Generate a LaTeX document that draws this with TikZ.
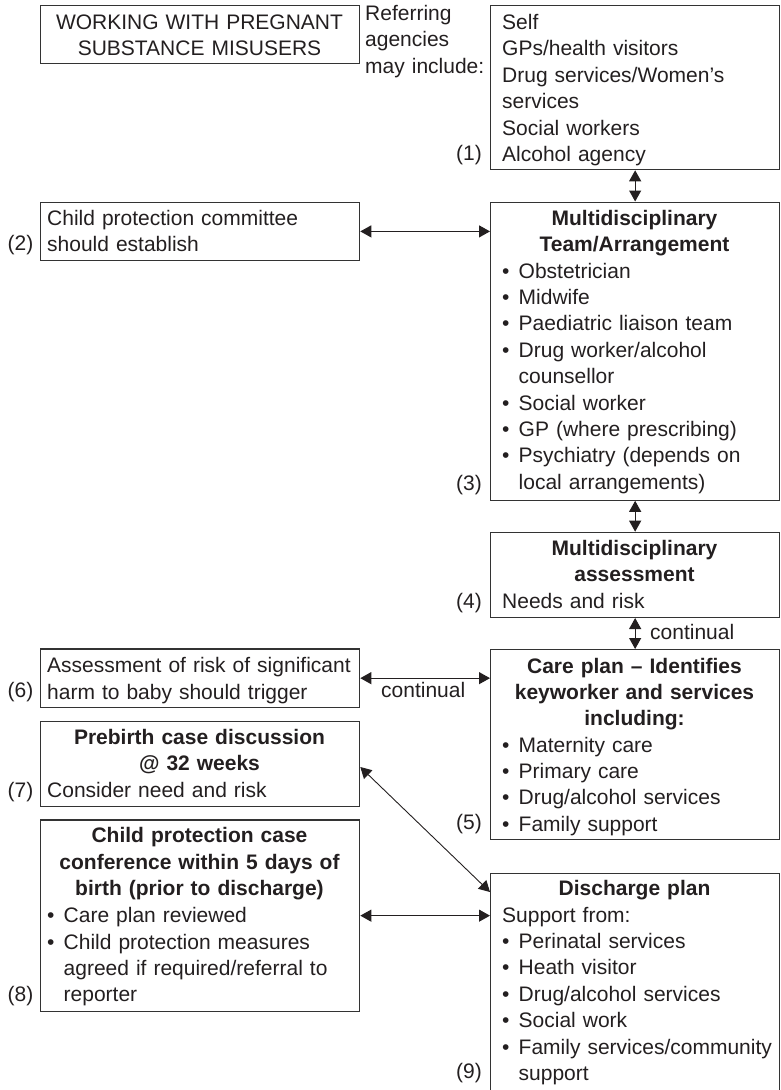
\documentclass[tikz,border=0pt]{standalone}
\usepackage{fontspec}
\setmainfont{Liberation Sans}
\usetikzlibrary{arrows.meta,calc}
\definecolor{ink}{HTML}{231F20}
\definecolor{edge}{HTML}{333333}
\newcommand{\bl}{\makebox[16.5pt][l]{\textbullet}}
\newcommand{\ind}{\hspace*{16.5pt}}
\begin{document}
\begin{tikzpicture}[x=1pt,y=-1pt,
  box/.style={draw=edge,line width=1.3pt,inner sep=0pt,anchor=north west},
  txt/.style={inner sep=0pt,text=ink,font=\fontsize{21}{26.4}\selectfont,align=left,anchor=base west,text width=330pt},
  ctr/.style={inner sep=0pt,text=ink,font=\fontsize{21}{26.4}\selectfont,align=center,anchor=base,text width=300pt},
  head/.style={inner sep=0pt,text=ink,font=\fontsize{21}{26.4}\selectfont\bfseries,align=center,anchor=base,text width=300pt},
  num/.style={inner sep=0pt,text=ink,font=\fontsize{21}{26.4}\selectfont,anchor=base east},
  dbl/.style={draw=ink,line width=1.1pt,{Triangle[length=11pt,width=12pt]}-{Triangle[length=11pt,width=12pt]}}
]
\useasboundingbox (0,0) rectangle (781,1090);

% title
\node[box,minimum width=319pt,minimum height=58pt] (title) at (40,5) {};
\node[ctr] (ttitle) at (199.5,29) {WORKING WITH PREGNANT\\SUBSTANCE MISUSERS};
\node[txt] (tref) at (365,20.5) {Referring\\agencies\\may include:};

% (1)
\node[box,minimum width=289pt,minimum height=164pt] (b1) at (490,5) {};
\node[txt] (t1) at (502,29.5) {Self\\GPs/health visitors\\Drug services/Women’s\\services\\Social workers\\Alcohol agency};
\node[num] (n1) at (482,160) {(1)};

% (2)
\node[box,minimum width=319pt,minimum height=57.5pt] (b2) at (40,202) {};
\node[txt] (t2) at (47,225) {Child protection committee\\should establish};
\node[num] (n2) at (33.5,250.7) {(2)};

% (3)
\node[box,minimum width=289pt,minimum height=298pt] (mdt) at (490,201.5) {};
\node[head] (h3) at (634.5,225) {Multidisciplinary\\Team/Arrangement};
\node[txt] (t3) at (502,278) {\bl Obstetrician\\\bl Midwife\\\bl Paediatric liaison team\\\bl Drug worker/alcohol\\\ind counsellor\\\bl Social worker\\\bl GP (where prescribing)\\\bl Psychiatry (depends on\\\ind local arrangements)};
\node[num] (n3) at (482,490) {(3)};

% (4)
\node[box,minimum width=289pt,minimum height=85pt] (ass) at (490,531.7) {};
\node[head] (h4) at (634.5,555) {Multidisciplinary\\assessment};
\node[txt] (t4) at (502,608.3) {Needs and risk};
\node[num] (n4) at (482,608.3) {(4)};
\node[txt] (c1) at (650,639.3) {continual};

% (5)
\node[box,minimum width=289pt,minimum height=190pt] (care) at (490,649) {};
\node[head] (h5) at (634.5,673) {Care plan – Identifies\\keyworker and services\\including:};
\node[txt] (t5) at (502,752) {\bl Maternity care\\\bl Primary care\\\bl Drug/alcohol services\\\bl Family support};
\node[num] (n5) at (482,829) {(5)};

% (6)
\node[box,minimum width=319pt,minimum height=58.4pt] (b6) at (40,648.3) {};
\node[txt] (t6) at (47,672.7) {Assessment of risk of significant\\harm to baby should trigger};
\node[num] (n6) at (33.5,697.7) {(6)};
\node[txt] (c2) at (381,697) {continual};

% (7)
\node[box,minimum width=319pt,minimum height=84.7pt] (b7) at (40,721) {};
\node[head] (h7) at (199.5,744.3) {Prebirth case discussion\\@ 32 weeks};
\node[txt] (t7) at (47,797.3) {Consider need and risk};
\node[num] (n7) at (33.5,797.3) {(7)};

% (8)
\node[box,minimum width=319pt,minimum height=191.4pt] (b8) at (40,819.3) {};
\node[head] (h8) at (199.5,842.7) {Child protection case\\conference within 5 days of\\birth (prior to discharge)};
\node[txt] (t8) at (47,922.7) {\bl Care plan reviewed\\\bl Child protection measures\\\ind agreed if required/referral to\\\ind reporter};
\node[num] (n8) at (33.5,1001.7) {(8)};

% (9)
\node[box,minimum width=289pt,minimum height=225pt] (dis) at (490,873) {};
\node[head] (h9) at (634.5,895) {Discharge plan};
\node[txt] (t9) at (502,922) {Support from:\\\bl Perinatal services\\\bl Heath visitor\\\bl Drug/alcohol services\\\bl Social work\\\bl Family services/community\\\ind support};
\node[num] (n9) at (482,1078) {(9)};

% connectors
\draw[dbl] (b1) -- (mdt);
\draw[dbl] (mdt) -- (ass);
\draw[dbl] (ass) -- (care);
\draw[dbl] (b2.east) -- (b2.east -| mdt.west);
\draw[dbl] (b6.east) -- (b6.east -| care.west);
\draw[dbl] (b8.east) -- (b8.east -| dis.west);
\coordinate (dtip) at ($(dis.north west)+(0pt,-19pt)$);
\draw[dbl,line width=0.9pt] ($(b7.east)+(0pt,-3pt)$) -- (dtip);
\end{tikzpicture}
\end{document}
